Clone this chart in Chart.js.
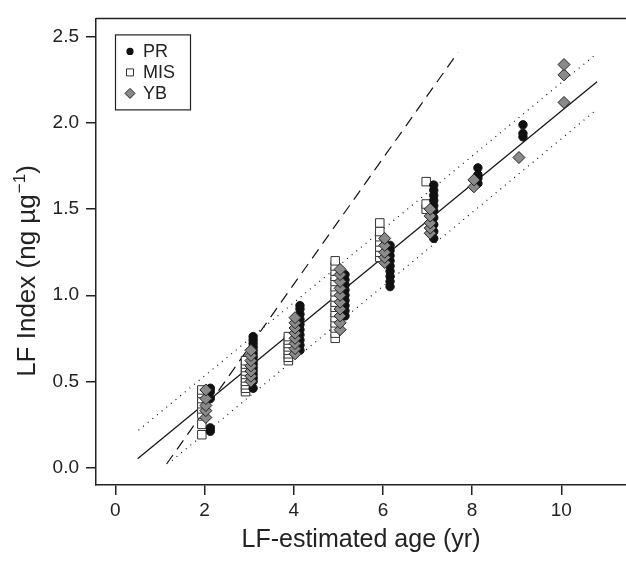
<!DOCTYPE html>
<html>
<head>
<meta charset="utf-8">
<script src="https://cdn.jsdelivr.net/npm/chart.js@4.4.1/dist/chart.umd.min.js"></script>
<style>
    html, body { margin: 0; padding: 0; background: #fff; }
    #wrap { width: 626px; height: 562px; }
</style>
</head>
<body>
<div id="wrap"><canvas id="myChart" width="626" height="562"></canvas></div>
<script>
// LF-estimated age (x) for each age group, per site, and the LF index values in that group
const prAges = [2.13, 3.09, 4.14, 5.15, 6.16, 7.14, 8.13, 9.14];
const prIndex = [
    [0.21, 0.23, 0.40, 0.44, 0.46],
    [0.46, 0.50, 0.52, 0.54, 0.56, 0.58, 0.60, 0.62, 0.64, 0.66, 0.68, 0.70, 0.72, 0.74, 0.76],
    [0.68, 0.71, 0.74, 0.77, 0.80, 0.83, 0.86, 0.89, 0.92, 0.94],
    [0.88, 0.91, 0.94, 0.97, 1.00, 1.03, 1.06, 1.09, 1.12],
    [1.05, 1.08, 1.11, 1.14, 1.17, 1.20, 1.23, 1.26, 1.29],
    [1.33, 1.37, 1.41, 1.45, 1.49, 1.52, 1.55, 1.58, 1.61, 1.64],
    [1.65, 1.68, 1.70, 1.74],
    [1.92, 1.94, 1.99]
];

const misAges = [1.94, 2.92, 3.88, 4.93, 5.93, 6.97];
const misIndex = [
    [0.19, 0.25, 0.31, 0.34, 0.37, 0.40, 0.43, 0.45],
    [0.44, 0.46, 0.48, 0.50, 0.52, 0.54, 0.56, 0.58, 0.60, 0.62],
    [0.62, 0.64, 0.66, 0.68, 0.70, 0.72, 0.74, 0.76],
    [0.75, 0.78, 0.81, 0.84, 0.87, 0.90, 0.93, 0.96, 0.99, 1.02, 1.05, 1.08, 1.11, 1.14, 1.17, 1.20],
    [1.22, 1.25, 1.28, 1.31, 1.34, 1.37, 1.42],
    [1.50, 1.53, 1.66]
];

const ybAges = [2.03, 3.04, 4.03, 5.04, 6.04, 7.06, 8.04, 9.05, 10.06];
const ybIndex = [
    [0.29, 0.33, 0.36, 0.40, 0.45],
    [0.50, 0.53, 0.56, 0.59, 0.62, 0.65, 0.68],
    [0.66, 0.69, 0.72, 0.75, 0.78, 0.81, 0.84, 0.87],
    [0.80, 0.84, 0.88, 0.92, 0.96, 1.00, 1.04, 1.08, 1.12, 1.15],
    [1.19, 1.22, 1.25, 1.29, 1.33],
    [1.36, 1.39, 1.42, 1.46, 1.50],
    [1.63, 1.67],
    [1.80],
    [2.12, 2.28, 2.34]
];

// regression line, prediction bounds and the steep dashed line (end points)
const fitAge = [0.5, 10.8];
const fitIndex = [0.05, 2.24];
const upperAge = [0.52, 10.73];
const upperIndex = [0.216, 2.39];
const lowerAge = [1.27, 10.8];
const lowerIndex = [0.04, 2.08];
const dashedAge = [1.15, 7.68];
const dashedIndex = [0.02, 2.41];

const xTicks = [0, 2, 4, 6, 8, 10];
const yTicks = [0, 0.5, 1, 1.5, 2, 2.5];

const FONT = "'Liberation Sans', Arial, Helvetica, sans-serif";
const INK = '#222';

function toPoints(ages, groups) {
    const pts = [];
    ages.forEach((age, i) => {
        groups[i].forEach(v => pts.push({ x: age, y: v }));
    });
    return pts;
}

function toLine(xs, ys) {
    return xs.map((x, i) => ({ x: x, y: ys[i] }));
}

function lineSet(xs, ys, dash) {
    return {
        label: '',
        data: toLine(xs, ys),
        showLine: true,
        borderColor: '#111',
        borderWidth: 1.2,
        borderDash: dash,
        pointRadius: 0,
        fill: false,
        order: 10
    };
}

// top border of the plot box, y title with a real superscript, legend box
const frameAndLegend = {
    id: 'frameAndLegend',
    afterDraw(chart) {
        const ctx = chart.ctx;
        const a = chart.chartArea;
        ctx.save();
        ctx.strokeStyle = INK;
        ctx.lineWidth = 1.5;
        ctx.beginPath();
        ctx.moveTo(a.left, a.top);
        ctx.lineTo(a.right, a.top);
        ctx.stroke();

        // y axis title
        ctx.save();
        ctx.translate(27, 271);
        ctx.rotate(-Math.PI / 2);
        ctx.fillStyle = INK;
        ctx.textBaseline = 'middle';
        const main = 'LF Index (ng µg';
        const sup = '−1';
        const tail = ')';
        ctx.font = '26px ' + FONT;
        const wMain = ctx.measureText(main).width;
        const wTail = ctx.measureText(tail).width;
        ctx.font = '17px ' + FONT;
        const wSup = ctx.measureText(sup).width + 1;
        let tx = -(wMain + wSup + wTail) / 2;
        ctx.textAlign = 'left';
        ctx.font = '26px ' + FONT;
        ctx.fillText(main, tx, 1);
        tx += wMain;
        ctx.font = '17px ' + FONT;
        ctx.fillText(sup, tx + 1, -7);
        tx += wSup;
        ctx.font = '26px ' + FONT;
        ctx.fillText(tail, tx, 1);
        ctx.restore();

        const bx = a.left + 19, by = a.top + 16, bw = 75, bh = 75;
        ctx.fillStyle = '#fff';
        ctx.fillRect(bx, by, bw, bh);
        ctx.lineWidth = 1.2;
        ctx.strokeRect(bx + 0.5, by + 0.5, bw, bh);

        const items = [
            { text: 'PR', style: 'circle' },
            { text: 'MIS', style: 'rect' },
            { text: 'YB', style: 'diamond' }
        ];
        ctx.font = '18px ' + FONT;
        ctx.textBaseline = 'middle';
        items.forEach((it, i) => {
            const cy = by + 17 + i * 21;
            const cx = bx + 15;
            ctx.beginPath();
            ctx.lineWidth = 1;
            if (it.style === 'circle') {
                ctx.arc(cx, cy, 3.6, 0, Math.PI * 2);
                ctx.fillStyle = '#111';
                ctx.fill();
            } else if (it.style === 'rect') {
                ctx.rect(cx - 3.5, cy - 3.5, 7, 7);
                ctx.fillStyle = '#fff';
                ctx.fill();
                ctx.strokeStyle = '#333';
                ctx.stroke();
            } else {
                ctx.moveTo(cx, cy - 5);
                ctx.lineTo(cx + 5, cy);
                ctx.lineTo(cx, cy + 5);
                ctx.lineTo(cx - 5, cy);
                ctx.closePath();
                ctx.fillStyle = '#8a8a8a';
                ctx.fill();
                ctx.strokeStyle = '#222';
                ctx.stroke();
            }
            ctx.fillStyle = INK;
            ctx.fillText(it.text, bx + 28, cy + 1);
        });
        ctx.restore();
    }
};

const ctx = document.getElementById('myChart').getContext('2d');
new Chart(ctx, {
    type: 'scatter',
    data: {
        datasets: [
            {
                label: 'PR',
                data: toPoints(prAges, prIndex),
                pointStyle: 'circle',
                pointRadius: 4.2,
                backgroundColor: '#111',
                borderColor: '#111',
                borderWidth: 1,
                order: 2
            },
            {
                label: 'MIS',
                data: toPoints(misAges, misIndex),
                pointStyle: 'rect',
                pointRadius: 6,
                backgroundColor: '#fff',
                borderColor: '#333',
                borderWidth: 1,
                order: 3
            },
            {
                label: 'YB',
                data: toPoints(ybAges, ybIndex),
                pointStyle: 'rectRot',
                pointRadius: 6,
                backgroundColor: '#8a8a8a',
                borderColor: '#222',
                borderWidth: 1,
                order: 1
            },
            lineSet(fitAge, fitIndex, []),
            lineSet(upperAge, upperIndex, [1, 5]),
            lineSet(lowerAge, lowerIndex, [1, 5]),
            lineSet(dashedAge, dashedIndex, [11, 7])
        ]
    },
    options: {
        responsive: false,
        animation: false,
        layout: { autoPadding: false, padding: { top: 8, left: 0, right: 0, bottom: 0 } },
        plugins: {
            legend: { display: false },
            tooltip: { enabled: false }
        },
        scales: {
            x: {
                type: 'linear',
                position: 'bottom',
                min: -0.433,
                max: 11.45,
                afterBuildTicks: s => { s.ticks = xTicks.map(v => ({ value: v })); },
                afterFit: s => { s.height = 77; },
                grid: { drawOnChartArea: false, drawTicks: true, tickLength: 10, color: INK, lineWidth: 1.5 },
                border: { display: true, color: INK, width: 1.5 },
                ticks: { font: { family: FONT, size: 19 }, color: INK, padding: 4, maxRotation: 0 },
                title: {
                    display: true,
                    text: 'LF-estimated age (yr)',
                    font: { family: FONT, size: 25 },
                    color: INK,
                    padding: { top: 0, bottom: 7 }
                }
            },
            y: {
                type: 'linear',
                min: -0.102,
                max: 2.608,
                afterBuildTicks: s => { s.ticks = yTicks.map(v => ({ value: v })); },
                afterFit: s => { s.width = 96; },
                grid: { drawOnChartArea: false, drawTicks: true, tickLength: 10, color: INK, lineWidth: 1.5 },
                border: { display: true, color: INK, width: 1.5 },
                ticks: {
                    font: { family: FONT, size: 19 },
                    color: INK,
                    padding: 7,
                    callback: v => v.toFixed(1)
                },
                title: { display: false }
            }
        }
    },
    plugins: [frameAndLegend]
});
</script>
</body>
</html>
